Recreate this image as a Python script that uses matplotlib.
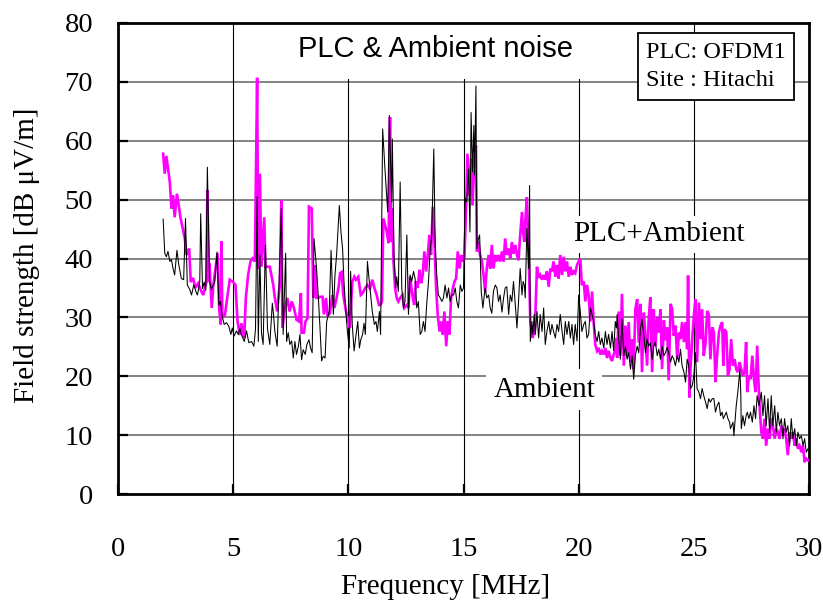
import matplotlib
matplotlib.use("Agg")
import matplotlib.pyplot as plt
import numpy as np

# ---------------- data ----------------
plc_freq = [1.96, 2.03, 2.10, 2.25, 2.32, 2.39, 2.46, 2.56, 2.64, 2.71, 2.90, 2.97, 3.09, 3.16, 3.26,
            3.36, 3.48, 3.62, 3.70, 3.84, 3.88, 3.94, 3.97, 4.07, 4.14, 4.32, 4.39, 4.46, 4.49, 4.53,
            4.64, 4.74, 4.85, 5.00, 5.10, 5.19, 5.29, 5.36, 5.48, 5.55, 5.65, 5.75, 5.84, 5.94, 5.98,
            6.04, 6.09, 6.16, 6.23, 6.35, 6.40, 6.59, 6.74, 6.81, 6.91, 7.03, 7.09, 7.14, 7.25, 7.35,
            7.45, 7.54, 7.64, 7.75, 7.86, 7.94, 7.97, 8.07, 8.14, 8.23, 8.29, 8.41, 8.48, 8.55, 8.62,
            8.70, 8.77, 8.88, 8.94, 9.03, 9.10, 9.20, 9.30, 9.39, 9.49, 9.59, 9.64, 9.71, 9.78, 9.90,
            10.00, 10.07, 10.17, 10.26, 10.33, 10.43, 10.54, 10.62, 10.72, 10.83, 10.94, 11.04, 11.13, 11.23, 11.33,
            11.40, 11.46, 11.52, 11.67, 11.75, 11.81, 11.85, 11.91, 11.96, 12.03, 12.10, 12.17, 12.25, 12.35, 12.43,
            12.54, 12.61, 12.68, 12.78, 12.86, 12.93, 13.01, 13.09, 13.16, 13.23, 13.30, 13.38, 13.45, 13.52, 13.59,
            13.67, 13.74, 13.81, 13.88, 13.96, 14.03, 14.10, 14.17, 14.25, 14.32, 14.39, 14.46, 14.54, 14.61, 14.68,
            14.75, 14.83, 14.90, 14.97, 15.04, 15.12, 15.17, 15.25, 15.33, 15.39, 15.46, 15.54, 15.58, 15.65, 15.72,
            15.80, 15.87, 15.94, 16.01, 16.09, 16.16, 16.23, 16.30, 16.38, 16.45, 16.52, 16.59, 16.67, 16.74, 16.81,
            16.88, 16.96, 17.03, 17.10, 17.17, 17.25, 17.32, 17.39, 17.46, 17.54, 17.59, 17.64, 17.68, 17.75, 17.83,
            17.90, 17.97, 18.00, 18.10, 18.19, 18.26, 18.33, 18.41, 18.48, 18.55, 18.62, 18.70, 18.77, 18.84, 18.91,
            18.99, 19.06, 19.13, 19.20, 19.28, 19.35, 19.42, 19.49, 19.57, 19.64, 19.71, 19.78, 19.85, 19.93, 20.00,
            20.07, 20.14, 20.22, 20.29, 20.36, 20.43, 20.51, 20.58, 20.65, 20.72, 20.80, 20.87, 20.94, 21.01, 21.09,
            21.16, 21.23, 21.30, 21.38, 21.45, 21.52, 21.59, 21.64, 21.67, 21.74, 21.81, 21.88, 21.96, 22.03, 22.10,
            22.17, 22.25, 22.32, 22.39, 22.46, 22.54, 22.61, 22.68, 22.75, 22.83, 22.90, 22.97, 23.04, 23.11, 23.19,
            23.26, 23.33, 23.41, 23.48, 23.55, 23.62, 23.70, 23.77, 23.84, 23.91, 23.99, 24.06, 24.13, 24.20, 24.28,
            24.35, 24.42, 24.49, 24.57, 24.64, 24.71, 24.75, 24.81, 24.86, 24.93, 25.00, 25.07, 25.14, 25.22, 25.29,
            25.36, 25.43, 25.51, 25.58, 25.65, 25.72, 25.80, 25.87, 25.94, 26.01, 26.09, 26.16, 26.23, 26.28, 26.33,
            26.41, 26.48, 26.55, 26.62, 26.70, 26.77, 26.84, 26.91, 26.99, 27.06, 27.13, 27.20, 27.27, 27.32, 27.39,
            27.46, 27.54, 27.61, 27.68, 27.75, 27.83, 27.87, 27.93, 28.00, 28.07, 28.14, 28.22, 28.29, 28.36, 28.43,
            28.51, 28.58, 28.65, 28.72, 28.80, 28.87, 28.94, 29.01, 29.08, 29.16, 29.23, 29.30, 29.38, 29.45, 29.52,
            29.59, 29.67, 29.74, 29.81, 29.88, 29.96]
plc_level = [57.8, 54.4, 57.4, 53.0, 48.5, 50.7, 47.0, 51.0, 49.0, 47.0, 43.4, 40.6, 41.7, 36.0, 36.7,
             35.0, 35.8, 34.4, 33.8, 36.0, 51.6, 36.0, 39.2, 31.6, 35.5, 40.9, 31.6, 28.8, 42.9, 30.0,
             30.4, 33.3, 36.4, 36.0, 35.5, 29.3, 27.0, 29.0, 26.5, 33.3, 37.2, 39.5, 40.0, 39.5, 51.3,
             70.7, 38.3, 54.4, 38.6, 47.0, 38.6, 38.6, 35.5, 33.3, 31.0, 36.1, 49.9, 28.2, 31.6, 33.3,
             31.0, 32.7, 31.6, 29.6, 29.3, 34.1, 27.4, 27.4, 29.3, 29.9, 48.8, 48.5, 33.3, 38.9, 33.3,
             33.3, 33.5, 33.5, 30.5, 33.3, 30.2, 30.7, 33.8, 31.6, 33.3, 35.5, 37.5, 37.7, 33.8, 31.0,
             29.3, 28.2, 36.0, 36.9, 36.4, 36.9, 33.8, 34.1, 34.9, 35.5, 34.9, 36.4, 35.0, 33.8, 32.1,
             32.1, 32.7, 46.8, 44.5, 42.6, 64.0, 42.8, 48.5, 39.5, 35.0, 33.3, 32.7, 33.3, 33.8, 31.6,
             32.1, 31.6, 36.9, 33.8, 32.1, 36.1, 35.0, 38.1, 35.8, 37.2, 41.2, 37.8, 40.6, 44.0, 40.6,
             48.8, 42.8, 35.0, 30.5, 27.6, 29.3, 27.1, 31.0, 25.1, 29.3, 27.1, 33.3, 35.0, 36.1, 36.6,
             41.2, 38.3, 40.6, 39.5, 40.0, 49.6, 57.8, 50.7, 57.0, 49.0, 55.8, 59.2, 41.2, 42.8, 40.6,
             39.5, 37.2, 34.4, 38.3, 40.6, 38.3, 42.3, 38.3, 40.6, 39.5, 40.6, 39.5, 41.2, 39.5, 43.4,
             40.6, 41.7, 40.0, 42.8, 40.8, 42.3, 40.6, 39.7, 44.0, 47.9, 44.5, 42.8, 46.2, 50.4, 40.6,
             29.3, 27.1, 26.5, 28.2, 38.6, 36.7, 37.2, 36.4, 37.2, 36.4, 37.8, 35.2, 38.3, 37.8, 39.5,
             36.9, 38.9, 36.6, 40.6, 37.2, 40.3, 37.8, 39.5, 36.9, 38.6, 37.2, 37.8, 37.5, 38.9, 39.5,
             40.0, 35.5, 36.1, 32.7, 35.5, 33.8, 29.3, 34.4, 29.3, 25.4, 24.3, 24.8, 23.7, 24.3, 23.7,
             24.8, 23.1, 24.3, 23.1, 22.6, 23.7, 24.3, 26.5, 23.1, 31.0, 23.5, 34.0, 21.8, 28.6, 23.5,
             29.2, 22.4, 26.3, 21.2, 31.4, 33.1, 25.7, 32.3, 20.7, 30.8, 26.9, 21.8, 29.8, 33.4, 20.7,
             31.4, 25.1, 30.0, 27.4, 31.4, 21.2, 29.5, 26.1, 28.3, 19.3, 32.3, 31.4, 26.9, 28.6, 22.9,
             27.4, 26.3, 29.2, 25.8, 29.2, 24.6, 37.1, 16.4, 21.8, 26.3, 30.3, 33.1, 22.4, 32.5, 26.3,
             31.4, 23.5, 25.7, 31.1, 30.5, 22.9, 28.3, 27.5, 19.0, 23.5, 27.5, 28.6, 29.2, 21.8, 28.0,
             27.5, 20.1, 21.2, 26.3, 21.8, 22.9, 21.2, 20.7, 22.4, 21.2, 20.1, 20.7, 25.8, 17.3, 20.1,
             19.5, 23.5, 19.5, 17.3, 25.2, 16.7, 13.9, 10.5, 9.4, 12.8, 8.2, 11.1, 9.4, 12.8, 11.6,
             9.4, 11.1, 10.5, 9.4, 11.6, 10.5, 11.1, 9.4, 6.6, 10.5, 9.4, 10.5, 8.2, 9.4, 7.7,
             8.2, 7.1, 8.2, 5.4, 6.0, 5.7]

amb_freq = [1.96, 2.03, 2.10, 2.17, 2.25, 2.32, 2.39, 2.46, 2.56, 2.64, 2.75, 2.85, 2.93, 3.01, 3.12,
            3.19, 3.29, 3.41, 3.45, 3.55, 3.59, 3.67, 3.74, 3.81, 3.88, 3.98, 4.06, 4.13, 4.20, 4.30,
            4.38, 4.45, 4.52, 4.61, 4.71, 4.81, 4.90, 4.96, 5.04, 5.14, 5.22, 5.29, 5.36, 5.48, 5.58,
            5.68, 5.80, 5.90, 5.97, 6.04, 6.09, 6.16, 6.23, 6.30, 6.40, 6.49, 6.59, 6.70, 6.74, 6.81,
            6.91, 7.00, 7.09, 7.17, 7.28, 7.32, 7.39, 7.46, 7.54, 7.61, 7.68, 7.75, 7.83, 7.90, 7.97,
            8.04, 8.13, 8.20, 8.29, 8.36, 8.43, 8.51, 8.62, 8.70, 8.77, 8.84, 8.91, 8.99, 9.06, 9.17,
            9.25, 9.35, 9.42, 9.49, 9.57, 9.61, 9.68, 9.75, 9.81, 9.90, 9.96, 10.04, 10.10, 10.17, 10.25,
            10.33, 10.41, 10.48, 10.54, 10.62, 10.68, 10.74, 10.83, 10.91, 10.97, 11.04, 11.13, 11.20, 11.26, 11.35,
            11.40, 11.49, 11.59, 11.71, 11.78, 11.88, 11.91, 11.98, 12.06, 12.10, 12.17, 12.25, 12.32, 12.39, 12.46,
            12.54, 12.61, 12.68, 12.75, 12.83, 12.90, 12.97, 13.04, 13.12, 13.19, 13.26, 13.33, 13.41, 13.48, 13.55,
            13.62, 13.71, 13.77, 13.84, 13.91, 13.99, 14.06, 14.13, 14.20, 14.28, 14.35, 14.42, 14.49, 14.57, 14.64,
            14.71, 14.78, 14.86, 14.93, 15.00, 15.07, 15.14, 15.22, 15.28, 15.33, 15.39, 15.45, 15.48, 15.54, 15.58,
            15.65, 15.70, 15.77, 15.84, 15.94, 16.01, 16.09, 16.16, 16.23, 16.30, 16.38, 16.45, 16.52, 16.59, 16.67,
            16.74, 16.81, 16.88, 16.96, 17.03, 17.10, 17.17, 17.25, 17.32, 17.39, 17.46, 17.54, 17.59, 17.64, 17.68,
            17.75, 17.83, 17.87, 17.90, 17.97, 18.01, 18.07, 18.12, 18.19, 18.26, 18.33, 18.41, 18.48, 18.55, 18.62,
            18.70, 18.77, 18.84, 18.91, 18.99, 19.06, 19.13, 19.20, 19.28, 19.35, 19.42, 19.49, 19.57, 19.64, 19.71,
            19.78, 19.85, 19.93, 20.00, 20.07, 20.14, 20.22, 20.29, 20.36, 20.43, 20.51, 20.58, 20.65, 20.72, 20.80,
            20.87, 20.94, 21.01, 21.09, 21.16, 21.23, 21.30, 21.38, 21.45, 21.52, 21.59, 21.64, 21.67, 21.74, 21.81,
            21.88, 21.96, 22.03, 22.10, 22.17, 22.25, 22.32, 22.39, 22.46, 22.54, 22.61, 22.68, 22.75, 22.83, 22.90,
            22.97, 23.04, 23.11, 23.19, 23.26, 23.33, 23.41, 23.48, 23.55, 23.62, 23.70, 23.77, 23.84, 23.91, 23.99,
            24.06, 24.13, 24.20, 24.28, 24.35, 24.42, 24.49, 24.57, 24.64, 24.71, 24.78, 24.86, 24.93, 25.00, 25.07,
            25.14, 25.22, 25.29, 25.36, 25.43, 25.51, 25.58, 25.65, 25.72, 25.80, 25.87, 25.94, 26.01, 26.09, 26.16,
            26.23, 26.28, 26.41, 26.48, 26.55, 26.59, 26.70, 26.74, 26.84, 26.91, 27.00, 27.04, 27.06, 27.13, 27.20,
            27.27, 27.32, 27.39, 27.46, 27.54, 27.61, 27.68, 27.75, 27.83, 27.93, 28.00, 28.07, 28.14, 28.22, 28.29,
            28.36, 28.43, 28.51, 28.58, 28.65, 28.72, 28.80, 28.87, 28.94, 29.01, 29.08, 29.16, 29.23, 29.30, 29.38,
            29.45, 29.52, 29.59, 29.67, 29.74, 29.81, 29.88, 29.96]
amb_level = [46.7, 40.9, 40.3, 41.2, 39.5, 39.8, 38.3, 37.2, 41.4, 38.9, 36.6, 36.4, 46.8, 35.5, 34.7,
             33.8, 35.5, 34.1, 33.8, 36.0, 47.6, 34.9, 36.0, 34.6, 55.5, 36.0, 34.7, 35.5, 36.0, 41.1,
             32.1, 32.7, 30.2, 28.8, 29.1, 28.5, 27.1, 28.2, 26.8, 27.7, 27.1, 28.1, 27.1, 25.9, 27.7,
             25.7, 25.9, 25.1, 28.1, 50.5, 25.9, 40.6, 27.3, 25.4, 42.3, 28.1, 25.4, 32.4, 31.0, 27.6,
             25.1, 36.6, 48.5, 27.1, 40.9, 25.9, 27.4, 25.4, 26.0, 23.1, 25.9, 23.7, 25.1, 27.1, 22.8,
             24.5, 23.7, 25.4, 26.2, 24.8, 24.0, 43.4, 38.3, 33.3, 28.2, 22.6, 23.4, 23.1, 29.3, 31.0,
             41.4, 30.5, 37.2, 40.6, 46.2, 49.0, 44.5, 41.7, 36.1, 30.5, 27.6, 24.8, 37.8, 28.8, 24.3,
             26.9, 29.3, 24.8, 26.2, 27.1, 29.0, 27.1, 39.5, 36.1, 33.8, 31.0, 28.8, 29.3, 27.6, 31.0,
             27.1, 62.0, 55.2, 47.9, 64.3, 49.6, 60.3, 40.6, 35.0, 36.9, 34.4, 53.0, 35.0, 31.6, 32.7,
             44.0, 30.5, 37.2, 36.1, 37.8, 36.6, 31.6, 32.7, 27.1, 27.6, 29.3, 27.6, 32.7, 36.1, 41.2,
             44.0, 58.6, 42.3, 37.2, 33.8, 33.3, 32.7, 33.3, 35.5, 33.3, 35.0, 32.7, 33.8, 33.8, 35.0,
             32.7, 31.6, 35.5, 34.4, 35.0, 50.2, 49.6, 55.2, 44.5, 64.8, 54.7, 62.6, 54.2, 69.3, 41.7,
             43.4, 44.0, 34.4, 31.6, 35.0, 33.3, 33.8, 31.6, 30.7, 34.4, 35.5, 35.0, 32.7, 33.8, 30.9,
             33.3, 35.0, 35.2, 30.5, 33.8, 32.7, 36.1, 32.1, 28.2, 32.7, 38.3, 33.8, 36.1, 35.5, 33.3,
             45.1, 38.3, 52.4, 25.9, 29.3, 27.1, 30.5, 27.1, 31.0, 26.5, 30.5, 27.6, 31.6, 25.4, 27.6,
             29.3, 27.1, 28.8, 27.6, 26.5, 28.8, 27.6, 30.5, 27.6, 25.4, 29.3, 27.1, 29.3, 26.5, 28.8,
             25.4, 28.8, 26.0, 33.8, 31.0, 27.6, 28.8, 29.3, 26.5, 27.1, 31.6, 30.5, 29.3, 27.1, 25.9,
             27.6, 25.4, 26.5, 24.8, 27.6, 25.4, 27.1, 24.8, 27.6, 24.3, 29.3, 28.2, 30.5, 26.3, 22.9,
             29.7, 23.5, 25.1, 22.9, 24.0, 21.2, 23.5, 19.5, 23.5, 25.1, 24.0, 28.0, 29.7, 26.9, 24.0,
             26.3, 25.1, 25.7, 22.9, 25.1, 25.8, 23.5, 24.6, 22.9, 25.1, 23.5, 24.0, 24.9, 24.0, 22.4,
             23.5, 22.9, 21.8, 23.5, 22.4, 24.6, 21.8, 20.7, 19.0, 22.9, 21.8, 17.9, 18.4, 20.1, 24.0,
             17.9, 17.3, 16.2, 17.9, 16.7, 15.6, 14.5, 16.2, 15.6, 16.2, 16.2, 13.9, 15.0, 15.6, 13.3,
             13.9, 12.8, 13.9, 12.8, 12.2, 11.1, 12.2, 9.9, 15.0, 17.3, 21.2, 16.7, 11.1, 13.3, 11.6,
             13.3, 13.9, 12.8, 13.9, 12.2, 15.0, 12.8, 16.7, 15.0, 17.3, 13.3, 16.7, 11.6, 16.2, 10.5,
             16.7, 11.6, 15.0, 10.5, 13.9, 11.6, 12.8, 9.4, 12.8, 10.5, 11.6, 8.2, 12.8, 9.4, 11.1,
             8.2, 10.5, 9.4, 9.9, 8.2, 9.4, 7.1, 7.7]

x_ticks = [0, 5, 10, 15, 20, 25, 30]
y_ticks = [0, 10, 20, 30, 40, 50, 60, 70, 80]

title_text = "PLC & Ambient noise"
info_text = "PLC: OFDM1\nSite : Hitachi"
x_label = "Frequency [MHz]"
y_label = "Field strength [dB \u03bcV/m]"

# ---------------- figure ----------------
serif = ["Liberation Serif", "DejaVu Serif"]
sans = ["Liberation Sans", "DejaVu Sans"]

fig = plt.figure(figsize=(8.23, 6.05), dpi=100)
ax = fig.add_axes([118 / 823, 1 - 494 / 605, 691 / 823, 471 / 605])

ax.set_xlim(0, 30)
ax.set_ylim(0, 80)
ax.set_xticks(x_ticks)
ax.set_yticks(y_ticks)
ax.set_axisbelow(True)

for yv in y_ticks[1:-1]:
    ax.axhline(yv, color="#6e6e6e", lw=1.2, zorder=0.5)
for xv in x_ticks[1:-1]:
    ax.axvline(xv, color="black", lw=0.8, zorder=0.5)

ax.plot(plc_freq, plc_level, color="#ff00ff", lw=1.9, zorder=3, solid_joinstyle="miter")
ax.plot(amb_freq, amb_level, color="black", lw=0.75, zorder=4)

for s in ax.spines.values():
    s.set_linewidth(2.0)
ax.tick_params(direction="in", length=7, width=1.6, labelsize=20.5)
ax.tick_params(axis="x", pad=31)
ax.tick_params(axis="y", pad=18)
for lab in ax.get_xticklabels() + ax.get_yticklabels():
    lab.set_fontfamily(serif)

fig.text(27 / 823, 1 - 255 / 605, y_label, fontsize=21, family=serif, rotation=90,
         ha="center", va="center")
fig.text(446 / 823, 1 - 587 / 605, x_label, fontsize=21, family=serif, ha="center", va="center")

# title with white box
ax.text(13.8, 75.6, title_text, fontsize=21, family=sans, ha="center", va="center",
        zorder=2, bbox=dict(boxstyle="square,pad=0.55", fc="white", ec="none"))

# info box
ax.text(22.93, 72.6, info_text, fontsize=17.5, family=serif, ha="left", va="center",
        linespacing=1.45, zorder=5,
        bbox=dict(boxstyle="square,pad=0.35", fc="white", ec="black", lw=1.3))

# series labels
ax.text(23.49, 44.1, "PLC+Ambient", fontsize=21, family=serif, ha="center", va="center",
        zorder=2, bbox=dict(boxstyle="square,pad=0.2", fc="white", ec="none"))
ax.text(18.5, 17.7, "Ambient", fontsize=21, family=serif, ha="center", va="center",
        zorder=2, bbox=dict(boxstyle="square,pad=0.25", fc="white", ec="none"))

fig.savefig("out.png", dpi=100)
